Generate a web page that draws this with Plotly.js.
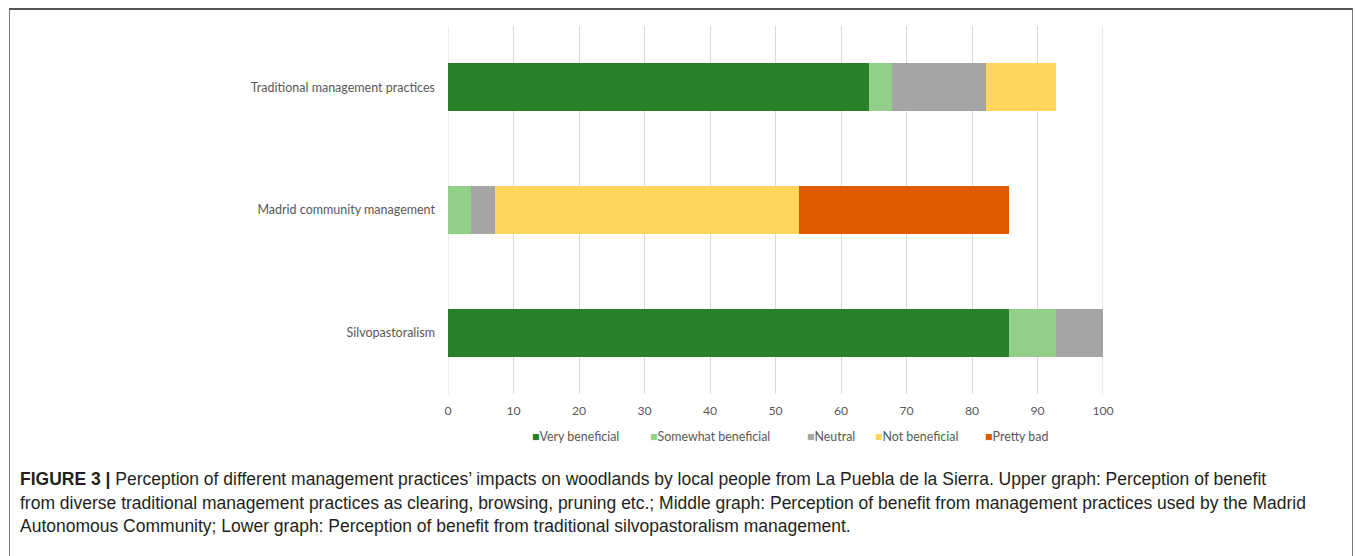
<!DOCTYPE html>
<html>
<head>
<meta charset="utf-8">
<script src="https://cdn.plot.ly/plotly-3.0.1.min.js"></script>
<style>
  html, body { margin: 0; padding: 0; background: #fff; }
  #wrap { position: relative; width: 1355px; height: 556px; overflow: hidden; }
  #chart { width: 1355px; height: 556px; }
  #frame { position: absolute; left: 9px; top: 8px; width: 1342px; height: 560px;
           border-top: 2px solid #555; border-left: 1.5px solid #7a7a7a; border-right: 1.5px solid #7a7a7a;
           pointer-events: none; }
</style>
</head>
<body>
<div id="wrap">
  <div id="chart"></div>
  <div id="frame"></div>
</div>
<script>
// ---- data ----
const categories = ['Traditional management practices', 'Madrid community management', 'Silvopastoralism'];
const seriesNames = ['Very beneficial', 'Somewhat beneficial', 'Neutral', 'Not beneficial', 'Pretty bad'];
const veryBeneficial     = [64.29, 0.00, 85.71];
const somewhatBeneficial = [3.57, 3.57, 7.14];
const neutral            = [14.29, 3.57, 7.14];
const notBeneficial      = [10.71, 46.43, 0.00];
const prettyBad          = [0.00, 32.14, 0.00];
const xTicks = [0, 10, 20, 30, 40, 50, 60, 70, 80, 90, 100];
const captionLines = [
  '<b>FIGURE 3 |</b> Perception of different management practices\u2019 impacts on woodlands by local people from La Puebla de la Sierra. Upper graph: Perception of benefit',
  'from diverse traditional management practices as clearing, browsing, pruning etc.; Middle graph: Perception of benefit from management practices used by the Madrid',
  'Autonomous Community; Lower graph: Perception of benefit from traditional silvopastoralism management.'
];

// ---- styles ----
const colors = ['#28802A', '#92CF89', '#A5A5A5', '#FFD65B', '#E05B00'];
const values = [veryBeneficial, somewhatBeneficial, neutral, notBeneficial, prettyBad];
const labelFont = 'Lato, "Open Sans", sans-serif';
const gridColor = '#D9D9D9';

const W = 1355, H = 556;
const M = { l: 448, r: 252, t: 26, b: 162 };
const plotW = W - M.l - M.r, plotH = H - M.t - M.b;
const px2x = p => (p - M.l) / plotW;
const py2y = p => (H - M.b - p) / plotH;

const traces = seriesNames.map((name, i) => ({
  type: 'bar',
  orientation: 'h',
  name: name,
  y: categories,
  x: values[i],
  marker: { color: colors[i], line: { width: 0 } },
  hoverinfo: 'name+x'
}));

const annotations = [];
// custom legend
const legendX = [530, 648, 805, 873, 983];
seriesNames.forEach((name, i) => {
  annotations.push({
    xref: 'paper', yref: 'paper', x: px2x(legendX[i]), y: py2y(436),
    xanchor: 'left', yanchor: 'middle', showarrow: false,
    text: '<span style="color:' + colors[i] + ';font-size:12.5px">\u25A0</span>' + name,
    font: { family: labelFont, size: 12.4, color: '#595959' }
  });
});
// caption
const capY = [479, 503, 526];
captionLines.forEach((t, i) => {
  annotations.push({
    xref: 'paper', yref: 'paper', x: px2x(18), y: py2y(capY[i]),
    xanchor: 'left', yanchor: 'middle', showarrow: false, align: 'left',
    text: t,
    font: { family: '"Liberation Sans", Arial, sans-serif', size: 17.5, color: '#231f20' }
  });
});

// gridlines at the ends of the axis (Plotly omits them at the range edge)
const edgeTicks = [xTicks[0], xTicks[xTicks.length - 1]];
const shapes = edgeTicks.map(v => ({
  type: 'line', layer: 'below', xref: 'x', yref: 'paper',
  x0: v, x1: v, y0: 0, y1: 1,
  line: { color: gridColor, width: 1 }
}));

const layout = {
  width: W, height: H,
  margin: M,
  paper_bgcolor: '#fff', plot_bgcolor: '#fff',
  barmode: 'stack',
  bargap: 0.61,
  showlegend: false,
  xaxis: {
    range: [0, 100],
    tickvals: xTicks,
    ticktext: xTicks.map(String),
    showgrid: true, gridcolor: gridColor, gridwidth: 1,
    zeroline: false, showline: false,
    tickfont: { family: labelFont, size: 12.2, color: '#595959' },
    ticks: '', ticklabelstandoff: 8
  },
  yaxis: {
    type: 'category',
    categoryorder: 'array', categoryarray: categories,
    autorange: 'reversed',
    showgrid: false, zeroline: false, showline: false,
    tickfont: { family: labelFont, size: 12.5, color: '#595959' },
    ticks: '', ticklabelstandoff: 12
  },
  shapes: shapes,
  annotations: annotations
};

Plotly.newPlot('chart', traces, layout, { displayModeBar: false, staticPlot: true });
</script>
</body>
</html>
